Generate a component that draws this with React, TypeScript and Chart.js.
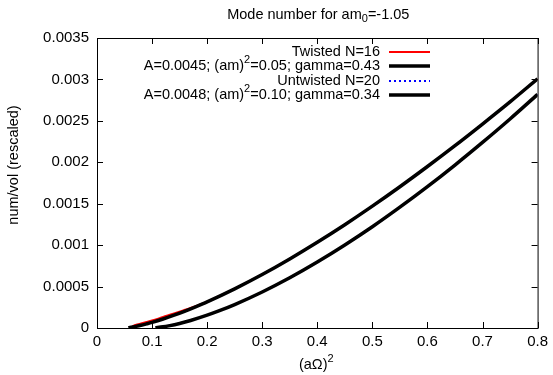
import React, { useEffect, useRef } from "react";
import { Chart, registerables } from "chart.js";
Chart.register(...registerables);

const TITLE = "Mode number for am₀=-1.05";
const X_TITLE = "(aΩ)²";
const Y_TITLE = "num/vol (rescaled)";
const X_TICKS = [0, 0.1, 0.2, 0.3, 0.4, 0.5, 0.6, 0.7, 0.8];
const Y_TICKS = [0, 0.0005, 0.001, 0.0015, 0.002, 0.0025, 0.003, 0.0035];

const twistedLabel = "Twisted N=16";
const twistedX = [0.064, 0.07, 0.08, 0.09, 0.1, 0.12, 0.14, 0.16, 0.18, 0.2, 0.25, 0.3, 0.35, 0.4, 0.45, 0.5, 0.55, 0.6, 0.65, 0.7, 0.75, 0.8];
const twistedY = [0.00002, 0.000037, 0.000055, 0.000072, 0.00009, 0.000133, 0.000175, 0.00022, 0.000266, 0.000317, 0.000474, 0.000646, 0.000835, 0.001035, 0.001247, 0.00147, 0.001705, 0.00195, 0.0022, 0.00246, 0.00273, 0.003005];

const fit1Label = "A=0.0045; (am)²=0.05; gamma=0.43";
const fit1X = [0.057, 0.06, 0.07, 0.08, 0.09, 0.1, 0.12, 0.14, 0.16, 0.18, 0.2, 0.25, 0.3, 0.35, 0.4, 0.45, 0.5, 0.55, 0.6, 0.65, 0.7, 0.75, 0.8];
const fit1Y = [0.000003, 0.0000071, 0.000019, 0.000033, 0.00005, 0.000068, 0.000109, 0.000155, 0.000205, 0.000259, 0.000316, 0.000473, 0.000646, 0.000834, 0.001035, 0.001247, 0.001471, 0.001705, 0.001949, 0.002201, 0.002462, 0.002729, 0.003008];

const untwistedLabel = "Untwisted N=20";
const untwistedX = [0.11, 0.12, 0.13, 0.15, 0.17, 0.2, 0.22, 0.25, 0.3, 0.35, 0.4, 0.45, 0.5, 0.55, 0.6, 0.65, 0.7, 0.75, 0.8];
const untwistedY = [0.000005, 0.000014, 0.000026, 0.000055, 0.000091, 0.000155, 0.000203, 0.000283, 0.000435, 0.000606, 0.000796, 0.001002, 0.001222, 0.001458, 0.001706, 0.001967, 0.00224, 0.002523, 0.002819];

const fit2Label = "A=0.0048; (am)²=0.10; gamma=0.34";
const fit2X = [0.106, 0.11, 0.12, 0.13, 0.15, 0.17, 0.2, 0.22, 0.25, 0.3, 0.35, 0.4, 0.45, 0.5, 0.55, 0.6, 0.65, 0.7, 0.75, 0.8];
const fit2Y = [0.000002, 0.000005, 0.000014, 0.000026, 0.000055, 0.000091, 0.000155, 0.000203, 0.000283, 0.000435, 0.000606, 0.000796, 0.001002, 0.001222, 0.001458, 0.001706, 0.001967, 0.00224, 0.002523, 0.002819];

const FONT = "'Liberation Sans', Arial, Helvetica, sans-serif";
const FS = 14.5;
const TICK_FS = 15;

function parts(s: string) {
  const out: { t: string; k: number }[] = [];
  for (const ch of s) {
    let k = 0;
    let t = ch;
    if (ch === "²") { k = 1; t = "2"; }
    if (ch === "₀") { k = -1; t = "0"; }
    if (out.length && out[out.length - 1].k === k) out[out.length - 1].t += t;
    else out.push({ t, k });
  }
  return out;
}

function drawRich(ctx: CanvasRenderingContext2D, s: string, x: number, y: number, align: "left" | "right" | "center", size: number) {
  const ps = parts(s);
  const small = Math.round(size * 0.75);
  let w = 0;
  for (const p of ps) {
    ctx.font = `${p.k ? small : size}px ${FONT}`;
    w += ctx.measureText(p.t).width;
  }
  let cx = align === "left" ? x : align === "right" ? x - w : x - w / 2;
  ctx.textAlign = "left";
  ctx.textBaseline = "middle";
  for (const p of ps) {
    ctx.font = `${p.k ? small : size}px ${FONT}`;
    const dy = p.k === 1 ? -size * 0.4 : p.k === -1 ? size * 0.3 : 0;
    ctx.fillText(p.t, cx, y + dy);
    cx += ctx.measureText(p.t).width;
  }
}

const framePlugin = {
  id: "frame",
  afterDraw(chart: any) {
    const { ctx, chartArea: a, scales } = chart;
    ctx.save();
    ctx.strokeStyle = "#000";
    ctx.lineWidth = 1;
    ctx.strokeRect(a.left + 0.5, a.top + 0.5, a.right - a.left, a.bottom - a.top);
    const tl = 6;
    ctx.beginPath();
    for (const v of X_TICKS) {
      const px = Math.round(scales.x.getPixelForValue(v)) + 0.5;
      ctx.moveTo(px, a.bottom); ctx.lineTo(px, a.bottom - tl);
      ctx.moveTo(px, a.top); ctx.lineTo(px, a.top + tl);
    }
    for (const v of Y_TICKS) {
      const py = Math.round(scales.y.getPixelForValue(v)) + 0.5;
      ctx.moveTo(a.left, py); ctx.lineTo(a.left + tl, py);
      ctx.moveTo(a.right, py); ctx.lineTo(a.right - tl, py);
    }
    ctx.stroke();

    ctx.fillStyle = "#000";
    drawRich(ctx, TITLE, (a.left + a.right) / 2 + 1, 15, "center", FS);
    drawRich(ctx, X_TITLE, (a.left + a.right) / 2 - 1, 365, "center", FS);
    ctx.save();
    ctx.translate(14, 165);
    ctx.rotate(-Math.PI / 2);
    drawRich(ctx, Y_TITLE, 0, 0, "center", FS);
    ctx.restore();

    // legend
    const rows = [52, 66, 81, 95];
    const ds = chart.data.datasets;
    const tx = 380, l0 = 389, l1 = 430;
    for (let i = 0; i < ds.length; i++) {
      const d = ds[i];
      ctx.fillStyle = "#000";
      drawRich(ctx, d.label, tx, rows[i], "right", FS);
      ctx.beginPath();
      ctx.strokeStyle = d.borderColor;
      ctx.lineWidth = d.borderWidth;
      ctx.setLineDash(d.borderDash || []);
      ctx.moveTo(l0, rows[i]); ctx.lineTo(l1, rows[i]);
      ctx.stroke();
      ctx.setLineDash([]);
    }
    ctx.restore();
  },
};

function pts(xs: number[], ys: number[]) {
  return xs.map((x, i) => ({ x, y: ys[i] }));
}

export default function App() {
  const ref = useRef<HTMLCanvasElement>(null);
  useEffect(() => {
    const chart = new Chart(ref.current!, {
      type: "line",
      data: {
        datasets: [
          { label: twistedLabel, data: pts(twistedX, twistedY), borderColor: "#ff0000", borderWidth: 2, pointRadius: 0, order: 4, cubicInterpolationMode: "monotone" },
          { label: fit1Label, data: pts(fit1X, fit1Y), borderColor: "#000000", borderWidth: 3.5, pointRadius: 0, order: 3, cubicInterpolationMode: "monotone" },
          { label: untwistedLabel, data: pts(untwistedX, untwistedY), borderColor: "#0000ff", borderWidth: 2, borderDash: [2, 3], pointRadius: 0, order: 2, cubicInterpolationMode: "monotone" },
          { label: fit2Label, data: pts(fit2X, fit2Y), borderColor: "#000000", borderWidth: 3.5, pointRadius: 0, order: 1, cubicInterpolationMode: "monotone" },
        ] as any,
      },
      options: {
        animation: false,
        responsive: true,
        maintainAspectRatio: false,
        layout: { padding: { top: 38, right: 13, left: 0, bottom: 0 } },
        plugins: { legend: { display: false }, title: { display: false }, tooltip: { enabled: false } },
        scales: {
          x: {
            type: "linear", min: 0, max: 0.8,
            afterBuildTicks: (s: any) => { s.ticks = X_TICKS.map((v) => ({ value: v })); },
            afterFit: (s: any) => { s.height = 47; },
            grid: { display: false, drawTicks: false },
            border: { display: false },
            ticks: { padding: 5, color: "#000", font: { family: FONT, size: TICK_FS }, maxRotation: 0, callback: (v: any) => String(Number(Number(v).toFixed(2))) },
          },
          y: {
            type: "linear", min: 0, max: 0.0035,
            afterBuildTicks: (s: any) => { s.ticks = Y_TICKS.map((v) => ({ value: v })); },
            afterFit: (s: any) => { s.width = 97; },
            grid: { display: false, drawTicks: false },
            border: { display: false },
            ticks: { padding: 8, color: "#000", font: { family: FONT, size: TICK_FS }, callback: (v: any) => String(Number(Number(v).toFixed(4))) },
          },
        },
      },
      plugins: [framePlugin],
    });
    return () => chart.destroy();
  }, []);
  return (
    <div style={{ position: "absolute", left: 0, top: 0, width: 553, height: 375, background: "#fff" }}>
      <canvas ref={ref} />
    </div>
  );
}
